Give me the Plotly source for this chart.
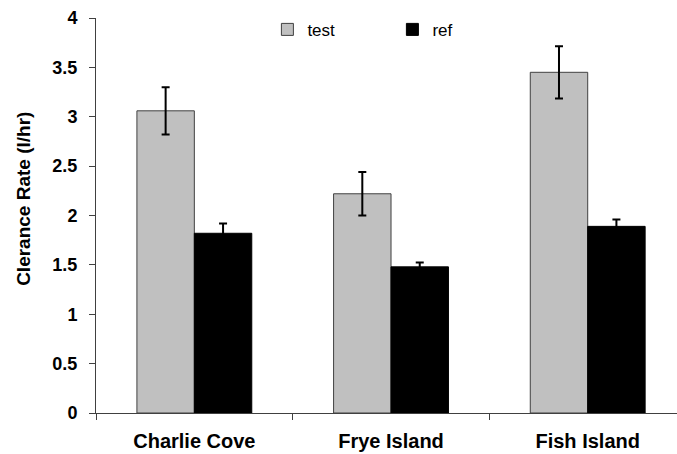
import plotly.graph_objects as go

sites = ["Charlie Cove", "Frye Island", "Fish Island"]
test_vals = [3.06, 2.22, 3.45]
test_err = [0.24, 0.22, 0.265]
ref_vals = [1.82, 1.48, 1.89]
ref_err = [0.10, 0.045, 0.07]
y_ticks = [0, 0.5, 1, 1.5, 2, 2.5, 3, 3.5, 4]
y_ticktext = ["0", "0.5", "1", "1.5", "2", "2.5", "3", "3.5", "4"]
y_title = "Clerance Rate (l/hr)"

FONT = "Arial, 'Liberation Sans', sans-serif"

fig = go.Figure()
fig.add_trace(go.Bar(
    name="test", x=sites, y=test_vals,
    marker=dict(color="#c0c0c0", line=dict(color="#404040", width=1)),
    error_y=dict(type="data", array=test_err, visible=True,
                 color="#000000", thickness=2, width=4),
))
fig.add_trace(go.Bar(
    name="ref", x=sites, y=ref_vals,
    marker=dict(color="#000000", line=dict(color="#000000", width=1)),
    error_y=dict(type="data", array=ref_err, visible=True,
                 color="#000000", thickness=2, width=4),
))

fig.update_layout(
    width=677, height=454,
    margin=dict(l=96, r=0, t=18, b=41),
    paper_bgcolor="white", plot_bgcolor="white",
    barmode="group", bargap=0.416, bargroupgap=0,
    font=dict(family=FONT, color="#000000"),
    showlegend=True,
    legend=dict(
        orientation="h", x=0.295, xanchor="left", y=0.97, yanchor="middle",
        font=dict(size=17, family=FONT), bgcolor="rgba(0,0,0,0)",
        entrywidth=80, tracegroupgap=0,
    ),
    xaxis=dict(
        type="category", range=[-0.5, 2.454], automargin=False,
        tickson="boundaries", ticks="outside", ticklen=6, tickcolor="#404040",
        showline=True, linecolor="#404040", linewidth=1,
        showgrid=False, zeroline=False,
        tickfont=dict(size=20, family=FONT, weight="bold"),
        ticklabelstandoff=10,
    ),
    yaxis=dict(
        range=[0, 4], tickvals=y_ticks, ticktext=y_ticktext, automargin=False,
        ticks="outside", ticklen=6, tickcolor="#404040",
        showline=True, linecolor="#404040", linewidth=1,
        showgrid=False, zeroline=False,
        tickfont=dict(size=18, family=FONT, weight="bold"),
        ticklabelstandoff=8,
    ),
    annotations=[dict(
        text=y_title, textangle=-90, showarrow=False,
        xref="paper", yref="paper", x=-0.124, y=0.542,
        xanchor="center", yanchor="middle",
        font=dict(size=19, family=FONT, weight="bold"),
    )],
)

fig.write_html("out.html")
